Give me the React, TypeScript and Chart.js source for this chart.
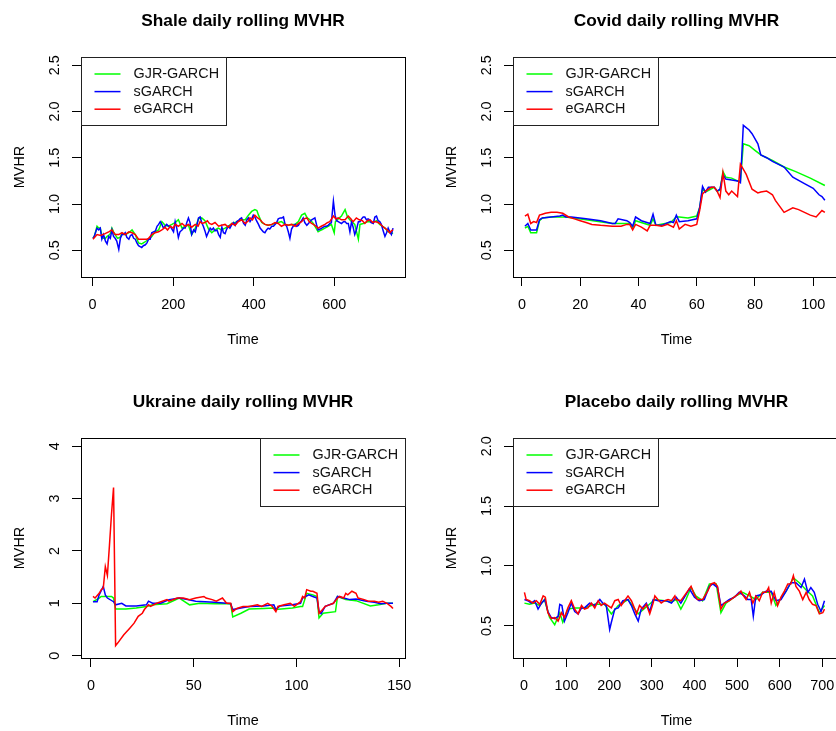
import React, { useEffect, useRef } from "react";
import { Chart, registerables } from "chart.js";

Chart.register(...registerables);

const FONT = "'Liberation Sans', Arial, Helvetica, sans-serif";
const SERIES_NAMES = ["GJR-GARCH", "sGARCH", "eGARCH"];
const SERIES_COLORS = ["#00ff00", "#0000ff", "#ff0000"];

// ---------- Shale ----------
const shaleXTicks = [0, 200, 400, 600];
const shaleYTicks = [0.5, 1.0, 1.5, 2.0, 2.5];
const shaleGjr: [number, number][] = [
  [1,0.63],[5,0.66],[11,0.76],[15,0.74],[19,0.74],[23,0.66],[27,0.63],[32,0.63],[36,0.65],[40,0.66],[44,0.68],[48,0.74],[52,0.70],[56,0.67],[62,0.63],[68,0.64],[73,0.68],[81,0.67],[90,0.69],[98,0.72],[106,0.67],[114,0.58],[122,0.57],[130,0.59],[139,0.62],[147,0.65],[155,0.70],[164,0.72],[172,0.81],[180,0.77],[188,0.76],[197,0.78],[205,0.80],[213,0.83],[222,0.74],[230,0.76],[238,0.77],[246,0.67],[255,0.74],[263,0.84],[271,0.85],[279,0.82],[288,0.73],[296,0.69],[304,0.72],[312,0.74],[320,0.72],[329,0.74],[337,0.76],[346,0.79],[354,0.80],[362,0.82],[370,0.83],[379,0.83],[387,0.88],[395,0.92],[403,0.94],[408,0.93],[412,0.88],[420,0.80],[428,0.78],[436,0.77],[445,0.78],[453,0.79],[461,0.80],[469,0.81],[478,0.78],[486,0.77],[494,0.78],[503,0.78],[511,0.81],[519,0.88],[527,0.90],[533,0.85],[540,0.83],[548,0.79],[560,0.70],[568,0.72],[577,0.74],[585,0.76],[593,0.78],[600,0.69],[603,0.81],[610,0.84],[618,0.87],[627,0.94],[633,0.86],[641,0.82],[651,0.78],[660,0.62],[664,0.78],[672,0.79],[684,0.81],[696,0.80],[705,0.82],[713,0.78],[726,0.74],[734,0.70],[742,0.69],[746,0.68]
];
const shaleSgarch: [number, number][] = [
  [1,0.63],[4,0.65],[11,0.74],[15,0.72],[19,0.74],[23,0.62],[27,0.67],[32,0.60],[36,0.57],[40,0.65],[44,0.63],[48,0.72],[52,0.65],[56,0.63],[60,0.60],[65,0.51],[69,0.63],[73,0.67],[77,0.67],[81,0.69],[85,0.64],[90,0.62],[94,0.66],[98,0.67],[102,0.63],[106,0.62],[110,0.58],[114,0.55],[118,0.54],[122,0.53],[126,0.55],[131,0.56],[135,0.58],[139,0.62],[143,0.62],[147,0.69],[151,0.70],[156,0.71],[160,0.76],[164,0.78],[168,0.81],[172,0.78],[176,0.74],[180,0.76],[184,0.78],[189,0.76],[193,0.76],[197,0.73],[201,0.70],[205,0.81],[209,0.74],[213,0.64],[217,0.70],[222,0.72],[226,0.74],[230,0.74],[234,0.80],[238,0.85],[242,0.80],[246,0.67],[251,0.72],[255,0.70],[259,0.77],[263,0.85],[267,0.86],[271,0.80],[275,0.76],[279,0.71],[283,0.65],[288,0.70],[292,0.74],[296,0.72],[300,0.74],[304,0.71],[309,0.72],[313,0.67],[317,0.64],[321,0.75],[325,0.69],[329,0.68],[333,0.73],[337,0.76],[341,0.74],[346,0.78],[350,0.80],[354,0.77],[358,0.81],[362,0.82],[366,0.84],[370,0.85],[375,0.79],[379,0.77],[383,0.83],[387,0.85],[391,0.81],[395,0.84],[399,0.88],[403,0.86],[407,0.82],[412,0.78],[416,0.74],[420,0.72],[424,0.70],[428,0.69],[432,0.72],[436,0.74],[440,0.73],[445,0.76],[449,0.76],[453,0.78],[457,0.80],[461,0.84],[466,0.85],[470,0.85],[474,0.86],[478,0.78],[482,0.76],[486,0.70],[490,0.63],[494,0.73],[498,0.76],[503,0.78],[507,0.76],[511,0.77],[515,0.80],[519,0.82],[523,0.85],[527,0.80],[532,0.77],[536,0.79],[540,0.81],[544,0.83],[548,0.84],[552,0.85],[556,0.78],[560,0.72],[565,0.73],[569,0.74],[573,0.75],[577,0.76],[581,0.76],[585,0.77],[589,0.79],[593,0.80],[598,1.03],[602,0.88],[606,0.82],[610,0.81],[614,0.80],[618,0.79],[623,0.81],[627,0.81],[631,0.79],[635,0.79],[639,0.70],[643,0.81],[647,0.75],[651,0.67],[655,0.72],[660,0.81],[664,0.81],[668,0.84],[672,0.86],[676,0.86],[680,0.83],[684,0.84],[688,0.83],[692,0.80],[697,0.79],[701,0.86],[705,0.87],[709,0.82],[713,0.81],[717,0.78],[721,0.72],[726,0.65],[730,0.69],[734,0.74],[738,0.70],[742,0.67],[746,0.74]
];
const shaleEgarch: [number, number][] = [
  [1,0.62],[11,0.67],[20,0.66],[31,0.68],[40,0.70],[48,0.72],[56,0.67],[65,0.67],[73,0.69],[81,0.67],[90,0.70],[98,0.69],[106,0.67],[114,0.62],[125,0.62],[135,0.62],[139,0.63],[147,0.67],[155,0.69],[164,0.70],[172,0.72],[180,0.75],[186,0.72],[193,0.76],[200,0.74],[205,0.78],[213,0.76],[222,0.79],[230,0.76],[238,0.78],[246,0.75],[255,0.78],[262,0.76],[267,0.81],[272,0.79],[279,0.80],[285,0.82],[290,0.79],[296,0.78],[304,0.80],[313,0.76],[320,0.77],[329,0.78],[337,0.75],[346,0.79],[354,0.77],[362,0.81],[370,0.83],[379,0.79],[387,0.82],[391,0.85],[397,0.83],[403,0.88],[410,0.85],[416,0.83],[422,0.80],[428,0.78],[436,0.77],[445,0.78],[453,0.80],[461,0.79],[469,0.76],[478,0.78],[486,0.77],[494,0.78],[503,0.76],[511,0.79],[519,0.81],[525,0.84],[532,0.85],[538,0.81],[544,0.79],[552,0.77],[560,0.74],[568,0.76],[577,0.78],[583,0.80],[589,0.81],[598,0.87],[604,0.84],[610,0.85],[618,0.83],[627,0.83],[635,0.87],[641,0.84],[647,0.81],[655,0.85],[662,0.83],[670,0.82],[676,0.79],[682,0.82],[689,0.83],[696,0.80],[701,0.81],[709,0.80],[713,0.79],[720,0.76],[726,0.74],[732,0.72],[738,0.69],[742,0.71],[746,0.72]
];

// ---------- Covid ----------
const covidXTicks = [0, 20, 40, 60, 80, 100];
const covidYTicks = [0.5, 1.0, 1.5, 2.0, 2.5];
const covidGjr: [number, number][] = [
  [1,0.74],[2,0.76],[3,0.69],[5,0.69],[6,0.82],[7,0.85],[10,0.86],[15,0.86],[22,0.83],[31,0.79],[37,0.79],[38,0.74],[39,0.82],[44,0.77],[45,0.84],[46,0.77],[51,0.80],[53,0.86],[54,0.86],[57,0.85],[60,0.87],[61,0.96],[62,1.16],[63,1.13],[66,1.18],[67,1.14],[68,1.15],[69,1.35],[70,1.29],[72,1.28],[74,1.25],[75,1.25],[76,1.65],[78,1.63],[80,1.58],[82,1.53],[86,1.47],[90,1.40],[94,1.35],[99,1.28],[104,1.20]
];
const covidSgarch: [number, number][] = [
  [1,0.76],[2,0.79],[3,0.72],[5,0.72],[6,0.83],[7,0.85],[10,0.86],[13,0.87],[14,0.88],[15,0.86],[17,0.86],[22,0.84],[27,0.82],[31,0.79],[32,0.79],[33,0.84],[36,0.82],[37,0.80],[38,0.76],[39,0.86],[41,0.82],[44,0.79],[45,0.89],[46,0.77],[48,0.77],[51,0.81],[52,0.80],[53,0.88],[54,0.81],[57,0.82],[60,0.84],[61,0.96],[62,1.19],[63,1.13],[64,1.18],[66,1.18],[67,1.14],[68,1.16],[69,1.32],[70,1.27],[72,1.26],[74,1.25],[75,1.23],[76,1.85],[78,1.80],[79,1.76],[81,1.65],[82,1.53],[84,1.50],[86,1.46],[90,1.40],[93,1.29],[97,1.22],[100,1.17],[102,1.10],[103,1.08],[104,1.04]
];
const covidEgarch: [number, number][] = [
  [1,0.87],[2,0.89],[3,0.79],[4,0.81],[5,0.80],[6,0.88],[7,0.89],[8,0.90],[10,0.91],[12,0.91],[14,0.90],[16,0.86],[18,0.84],[20,0.82],[22,0.80],[24,0.78],[27,0.77],[31,0.76],[34,0.76],[36,0.78],[37,0.78],[38,0.72],[39,0.78],[41,0.75],[43,0.71],[44,0.77],[46,0.77],[48,0.76],[50,0.78],[52,0.75],[53,0.82],[54,0.73],[56,0.78],[58,0.76],[60,0.78],[61,0.93],[62,1.11],[63,1.14],[65,1.18],[66,1.18],[67,1.14],[68,1.07],[69,1.34],[70,1.14],[71,1.10],[72,1.14],[74,1.08],[75,1.43],[77,1.32],[79,1.16],[81,1.12],[82,1.13],[84,1.14],[85,1.12],[86,1.10],[87,1.04],[90,0.91],[93,0.96],[95,0.94],[97,0.91],[99,0.88],[101,0.86],[103,0.93],[104,0.91]
];

// ---------- Ukraine ----------
const ukraineXTicks = [0, 50, 100, 150];
const ukraineYTicks = [0, 1, 2, 3, 4];
const ukraineGjr: [number, number][] = [
  [1,1.03],[4,1.10],[5,1.13],[8,1.13],[10,1.13],[11,1.10],[12,0.89],[17,0.89],[22,0.91],[27,0.94],[30,0.97],[37,0.99],[43,1.10],[48,0.97],[53,1.00],[60,0.99],[66,0.99],[68,0.99],[69,0.74],[73,0.81],[77,0.89],[84,0.90],[89,0.91],[90,0.88],[98,0.91],[102,0.94],[103,0.94],[105,1.19],[108,1.16],[110,1.13],[111,0.72],[113,0.81],[119,0.84],[120,1.13],[124,1.07],[129,1.05],[136,0.95],[140,0.97],[144,1.00],[147,1.00]
];
const ukraineSgarch: [number, number][] = [
  [1,1.03],[3,1.03],[4,1.16],[6,1.32],[7,1.16],[8,1.10],[11,1.03],[12,0.97],[15,1.00],[17,0.95],[22,0.95],[27,0.97],[28,1.04],[30,1.00],[34,1.00],[38,1.07],[43,1.10],[47,1.07],[51,1.04],[60,1.02],[66,1.00],[68,0.99],[69,0.88],[73,0.91],[77,0.94],[84,0.95],[89,0.97],[90,0.88],[92,0.95],[98,0.97],[102,1.00],[103,1.10],[106,1.16],[108,1.13],[110,1.10],[111,0.85],[112,0.80],[114,0.94],[118,1.00],[120,1.13],[123,1.10],[126,1.07],[129,1.08],[134,1.04],[138,1.02],[141,0.99],[144,1.00],[147,1.00]
];
const ukraineEgarch: [number, number][] = [
  [1,1.13],[2,1.10],[4,1.19],[5,1.26],[6,1.29],[7,1.70],[8,1.53],[9,2.10],[10,2.70],[11,3.21],[12,0.19],[13,0.24],[16,0.40],[19,0.53],[21,0.62],[23,0.75],[25,0.81],[26,0.88],[28,0.97],[29,0.94],[32,1.00],[37,1.07],[38,1.04],[42,1.10],[45,1.10],[48,1.07],[51,1.10],[55,1.13],[56,1.10],[59,1.07],[61,1.04],[64,1.10],[66,1.00],[68,1.00],[69,0.84],[71,0.90],[74,0.94],[77,0.94],[81,0.97],[83,0.94],[86,1.00],[88,0.95],[90,0.84],[91,0.94],[94,0.97],[97,1.00],[99,0.94],[102,1.03],[103,1.13],[104,1.10],[105,1.26],[107,1.23],[108,1.23],[110,1.19],[111,0.81],[112,0.85],[114,0.94],[116,0.97],[118,1.00],[120,1.10],[121,1.13],[123,1.10],[124,1.19],[125,1.16],[127,1.23],[129,1.19],[130,1.10],[133,1.07],[135,1.04],[138,1.04],[140,1.02],[142,1.04],[144,1.00],[146,0.94],[147,0.90]
];

// ---------- Placebo ----------
const placeboXTicks = [0, 100, 200, 300, 400, 500, 600, 700];
const placeboYTicks = [0.5, 1.0, 1.5, 2.0];
const placeboGjr: [number, number][] = [
  [1,0.69],[13,0.68],[25,0.69],[37,0.67],[48,0.72],[60,0.57],[72,0.51],[84,0.61],[91,0.53],[103,0.64],[119,0.65],[142,0.65],[166,0.68],[189,0.68],[205,0.60],[221,0.67],[244,0.72],[268,0.60],[291,0.67],[307,0.72],[330,0.71],[346,0.70],[357,0.72],[368,0.64],[380,0.72],[392,0.82],[403,0.75],[419,0.71],[435,0.85],[451,0.85],[462,0.61],[474,0.69],[497,0.75],[513,0.78],[529,0.75],[544,0.72],[560,0.78],[580,0.78],[591,0.67],[615,0.79],[626,0.86],[632,0.90],[646,0.86],[662,0.80],[677,0.75],[693,0.61],[705,0.67]
];
const placeboSgarch: [number, number][] = [
  [1,0.72],[9,0.71],[17,0.69],[25,0.71],[33,0.64],[41,0.69],[49,0.72],[56,0.62],[64,0.57],[72,0.56],[80,0.58],[84,0.68],[89,0.67],[95,0.54],[103,0.61],[111,0.69],[119,0.62],[127,0.60],[135,0.65],[142,0.65],[154,0.69],[166,0.67],[178,0.72],[185,0.69],[193,0.67],[201,0.47],[205,0.53],[213,0.64],[221,0.65],[232,0.71],[244,0.72],[252,0.67],[260,0.60],[268,0.54],[275,0.64],[287,0.69],[295,0.62],[303,0.72],[315,0.71],[326,0.71],[334,0.71],[346,0.69],[357,0.74],[368,0.69],[380,0.76],[388,0.81],[400,0.74],[411,0.71],[423,0.72],[435,0.83],[443,0.85],[454,0.82],[462,0.67],[470,0.69],[482,0.72],[494,0.74],[505,0.78],[517,0.75],[525,0.72],[533,0.72],[538,0.58],[544,0.75],[556,0.76],[568,0.79],[580,0.79],[591,0.71],[603,0.72],[615,0.79],[626,0.86],[638,0.86],[650,0.82],[658,0.89],[666,0.78],[673,0.82],[681,0.78],[689,0.68],[697,0.62],[705,0.71]
];
const placeboEgarch: [number, number][] = [
  [1,0.78],[5,0.72],[13,0.71],[21,0.69],[29,0.71],[37,0.68],[45,0.75],[50,0.74],[56,0.61],[64,0.56],[72,0.57],[80,0.54],[88,0.61],[95,0.57],[103,0.65],[111,0.71],[119,0.64],[127,0.60],[135,0.67],[142,0.64],[150,0.65],[158,0.69],[166,0.65],[174,0.71],[181,0.67],[189,0.69],[197,0.67],[205,0.65],[213,0.71],[221,0.72],[228,0.67],[236,0.71],[244,0.75],[252,0.71],[260,0.64],[264,0.60],[271,0.67],[279,0.64],[287,0.68],[295,0.60],[303,0.69],[307,0.75],[314,0.72],[322,0.69],[330,0.71],[338,0.72],[346,0.71],[354,0.75],[357,0.72],[368,0.71],[376,0.75],[384,0.79],[392,0.83],[400,0.76],[407,0.72],[419,0.72],[431,0.79],[439,0.85],[447,0.86],[454,0.83],[462,0.64],[470,0.69],[482,0.71],[493,0.74],[501,0.76],[509,0.79],[513,0.76],[521,0.72],[529,0.78],[537,0.69],[544,0.75],[552,0.71],[560,0.78],[568,0.78],[574,0.82],[580,0.69],[587,0.78],[595,0.67],[603,0.74],[611,0.79],[619,0.85],[626,0.85],[632,0.92],[638,0.83],[646,0.79],[654,0.72],[662,0.78],[669,0.72],[677,0.68],[685,0.67],[693,0.60],[701,0.61],[705,0.64]
];

type PanelSpec = {
  title: string;
  left: number;
  top: number;
  width: number;
  height: number;
  padLeft: number;
  padRight: number;
  padBottom: number;
  xMin: number;
  xMax: number;
  yMin: number;
  yMax: number;
  xTicks: number[];
  yTicks: number[];
  yDecimals: number;
  yTickPad: number;
  legendSide: "left" | "right";
  series: [number, number][][];
};

const PANELS: PanelSpec[] = [
  {
    title: "Shale daily rolling MVHR",
    left: 0, top: 0, width: 418, height: 365,
    padLeft: 11.36, padRight: 13, padBottom: 16.36,
    xMin: -28.8, xMax: 775.8, yMin: 0.212, yMax: 2.588,
    xTicks: shaleXTicks, yTicks: shaleYTicks, yDecimals: 1, yTickPad: 7,
    legendSide: "left",
    series: [shaleGjr, shaleSgarch, shaleEgarch],
  },
  {
    title: "Covid daily rolling MVHR",
    left: 418, top: 0, width: 422, height: 365,
    padLeft: 25.36, padRight: 0, padBottom: 16.36,
    xMin: -3.09, xMax: 109.2, yMin: 0.212, yMax: 2.588,
    xTicks: covidXTicks, yTicks: covidYTicks, yDecimals: 1, yTickPad: 7,
    legendSide: "left",
    series: [covidGjr, covidSgarch, covidEgarch],
  },
  {
    title: "Ukraine daily rolling MVHR",
    left: 0, top: 381, width: 418, height: 350,
    padLeft: 11.36, padRight: 13, padBottom: 1.36,
    xMin: -4.84, xMax: 152.84, yMin: -0.045, yMax: 4.156,
    xTicks: ukraineXTicks, yTicks: ukraineYTicks, yDecimals: 0, yTickPad: 13,
    legendSide: "right",
    series: [ukraineGjr, ukraineSgarch, ukraineEgarch],
  },
  {
    title: "Placebo daily rolling MVHR",
    left: 418, top: 381, width: 422, height: 350,
    padLeft: 25.36, padRight: 0, padBottom: 1.36,
    xMin: -25.8, xMax: 741.4, yMin: 0.232, yMax: 2.068,
    xTicks: placeboXTicks, yTicks: placeboYTicks, yDecimals: 1, yTickPad: 7,
    legendSide: "left",
    series: [placeboGjr, placeboSgarch, placeboEgarch],
  },
];

const rDecor = {
  id: "rDecor",
  afterDraw(chart: any, _args: any, opts: any) {
    const { ctx, chartArea: a } = chart;
    ctx.save();
    // plot frame
    ctx.strokeStyle = "#000";
    ctx.lineWidth = 1;
    const L = Math.round(a.left) + 0.5;
    const T = Math.round(a.top) + 0.5;
    const R = Math.round(a.right) + 0.5;
    const B = Math.round(a.bottom) + 0.5;
    ctx.strokeRect(L, T, R - L, B - T);
    // legend box (R style)
    const w = 145;
    const h = 68;
    const lx = opts.side === "right" ? R - w : L;
    const ly = T;
    ctx.fillStyle = "#fff";
    ctx.fillRect(lx, ly, w, h);
    ctx.strokeStyle = "#222";
    ctx.strokeRect(lx, ly, w, h);
    ctx.font = `14.4px ${FONT}`;
    ctx.textBaseline = "middle";
    ctx.textAlign = "left";
    chart.data.datasets.forEach((ds: any, i: number) => {
      const y = ly + 16.5 + i * 17.6;
      ctx.strokeStyle = ds.borderColor;
      ctx.lineWidth = 1.5;
      ctx.beginPath();
      ctx.moveTo(lx + 13, y);
      ctx.lineTo(lx + 39, y);
      ctx.stroke();
      ctx.fillStyle = "#111";
      ctx.fillText(ds.label, lx + 52, y);
    });
    ctx.restore();
  },
};

function makeConfig(p: PanelSpec): any {
  return {
    type: "line",
    data: {
      datasets: p.series.map((pts, i) => ({
        label: SERIES_NAMES[i],
        data: pts.map(([x, y]) => ({ x, y })),
        borderColor: SERIES_COLORS[i],
        backgroundColor: SERIES_COLORS[i],
        borderWidth: 1.5,
        pointRadius: 0,
        pointHoverRadius: 0,
        tension: 0,
        fill: false,
        order: 3 - i,
      })),
    },
    options: {
      responsive: false,
      animation: false,
      devicePixelRatio: 1,
      events: [],
      layout: { padding: { left: p.padLeft, right: p.padRight, top: 0, bottom: p.padBottom } },
      plugins: {
        legend: { display: false },
        tooltip: { enabled: false },
        title: {
          display: true,
          text: p.title,
          fullSize: false,
          color: "#000",
          font: { family: FONT, size: 17.28, weight: "bold", lineHeight: 1.2 },
          padding: { top: 11.3, bottom: 24.96 },
        },
        rDecor: { side: p.legendSide },
      },
      scales: {
        x: {
          type: "linear",
          position: "bottom",
          min: p.xMin,
          max: p.xMax,
          bounds: "data",
          afterBuildTicks: (s: any) => {
            s.ticks = p.xTicks.map((v) => ({ value: v }));
          },
          afterFit: (s: any) => {
            s.height = 71.64;
            s.paddingLeft = 0;
            s.paddingRight = 0;
          },
          ticks: {
            autoSkip: false,
            minRotation: 0,
            maxRotation: 0,
            padding: 10.36,
            color: "#000",
            font: { family: FONT, size: 14.4 },
            callback: (v: any) => String(v),
          },
          grid: { display: true, drawOnChartArea: false, drawTicks: true, tickLength: 9, color: "#000", lineWidth: 1 },
          border: { display: false },
          title: { display: true, text: "Time", color: "#000", font: { family: FONT, size: 14.4 }, padding: 0 },
        },
        y: {
          type: "linear",
          position: "left",
          min: p.yMin,
          max: p.yMax,
          bounds: "data",
          afterBuildTicks: (s: any) => {
            s.ticks = p.yTicks.map((v) => ({ value: v }));
          },
          afterFit: (s: any) => {
            s.width = 69.64;
            s.paddingTop = 0;
            s.paddingBottom = 0;
          },
          ticks: {
            autoSkip: false,
            minRotation: 90,
            maxRotation: 90,
            crossAlign: "center",
            padding: p.yTickPad,
            color: "#000",
            font: { family: FONT, size: 14.4 },
            callback: (v: any) => Number(v).toFixed(p.yDecimals),
          },
          grid: { display: true, drawOnChartArea: false, drawTicks: true, tickLength: 9, color: "#000", lineWidth: 1 },
          border: { display: false },
          title: { display: true, text: "MVHR", color: "#000", font: { family: FONT, size: 14.4 }, padding: 0 },
        },
      },
    },
    plugins: [rDecor],
  };
}

function Panel({ spec }: { spec: PanelSpec }) {
  const ref = useRef<HTMLCanvasElement>(null);
  useEffect(() => {
    const chart = new Chart(ref.current as HTMLCanvasElement, makeConfig(spec));
    return () => chart.destroy();
  }, [spec]);
  return (
    <canvas
      ref={ref}
      width={spec.width}
      height={spec.height}
      style={{ position: "absolute", left: spec.left, top: spec.top, width: spec.width, height: spec.height }}
    />
  );
}

export default function App() {
  return (
    <div
      style={{
        position: "fixed",
        left: 0,
        top: 0,
        width: 836,
        height: 731,
        overflow: "hidden",
        background: "#fff",
      }}
    >
      {PANELS.map((p) => (
        <Panel key={p.title} spec={p} />
      ))}
    </div>
  );
}
